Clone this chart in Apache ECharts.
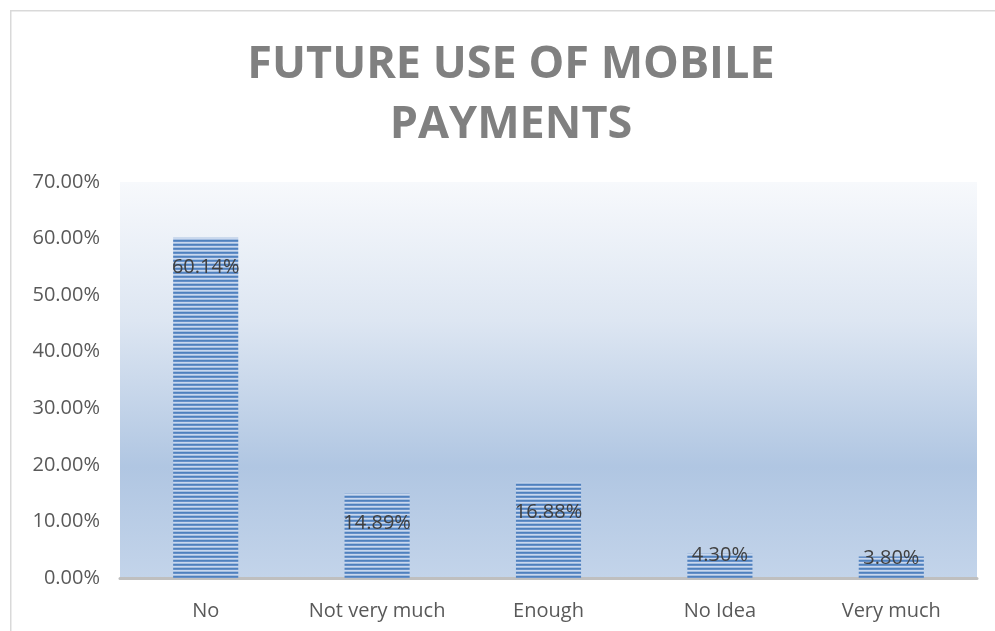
<!DOCTYPE html>
<html>
<head>
<meta charset="utf-8">
<script src="https://cdn.jsdelivr.net/npm/echarts@6/dist/echarts.min.js"></script>
<style>
html,body{margin:0;padding:0;background:#fff;}
#chart{width:995px;height:631px;}
</style>
</head>
<body>
<div id="chart"></div>
<script>
const titleText = 'FUTURE USE OF MOBILE\nPAYMENTS';
const categories = ['No', 'Not very much', 'Enough', 'No Idea', 'Very much'];
const values = [0.6014, 0.1489, 0.1688, 0.0430, 0.0380];
const yTicks = { min: 0, max: 0.7, interval: 0.1 };

// striped bar fill
const pc = document.createElement('canvas');
pc.width = 4; pc.height = 4;
const px = pc.getContext('2d');
const rows = ['#4f81bd', '#6690c9', '#c9d8ee', '#a3bde0'];
rows.forEach((c, i) => { px.fillStyle = c; px.fillRect(0, i, 4, 1); });

const chart = echarts.init(document.getElementById('chart'), null, { renderer: 'canvas' });
const fontFam = '"Open Sans", "Liberation Sans", sans-serif';

chart.setOption({
  animation: false,
  backgroundColor: '#ffffff',
  graphic: [{
    type: 'rect', left: 10, top: 10, z: -10,
    shape: { width: 1000, height: 640 },
    style: { fill: '#ffffff', stroke: '#d9d9d9', lineWidth: 1.5 }
  }],
  title: {
    text: titleText,
    left: 506, top: 30, textAlign: 'center',
    textStyle: { fontFamily: fontFam, fontWeight: 'bold', fontSize: 45, lineHeight: 60, color: '#808080' }
  },
  grid: {
    left: 120, right: 18, top: 182, bottom: 53,
    show: true, borderWidth: 0,
    backgroundColor: new echarts.graphic.LinearGradient(0, 0, 0, 1, [
      { offset: 0, color: '#f7f9fc' },
      { offset: 0.35, color: '#dde6f2' },
      { offset: 0.72, color: '#b0c6e2' },
      { offset: 1, color: '#c3d4ea' }
    ])
  },
  xAxis: {
    type: 'category', data: categories,
    axisTick: { show: false },
    axisLine: { lineStyle: { color: '#bfbfbf', width: 3 } },
    axisLabel: { interval: 0, margin: 23, fontSize: 20, color: '#595959', fontFamily: fontFam }
  },
  yAxis: {
    type: 'value', min: yTicks.min, max: yTicks.max, interval: yTicks.interval,
    splitLine: { show: false },
    axisLine: { show: false }, axisTick: { show: false },
    axisLabel: { margin: 20, fontSize: 20, color: '#595959', fontFamily: fontFam,
      formatter: v => (v * 100).toFixed(2) + '%' }
  },
  series: [{
    type: 'bar',
    barWidth: '38%',
    data: values.map(v => ({
      value: v,
      label: v < 0.1 ? { position: 'top', distance: -12 } : { position: 'insideTop', distance: 20 }
    })),
    itemStyle: { color: { image: pc, repeat: 'repeat' } },
    label: {
      show: true, fontSize: 20, color: '#404040', fontFamily: fontFam,
      formatter: p => (p.value * 100).toFixed(2) + '%'
    }
  }]
});
</script>
</body>
</html>
